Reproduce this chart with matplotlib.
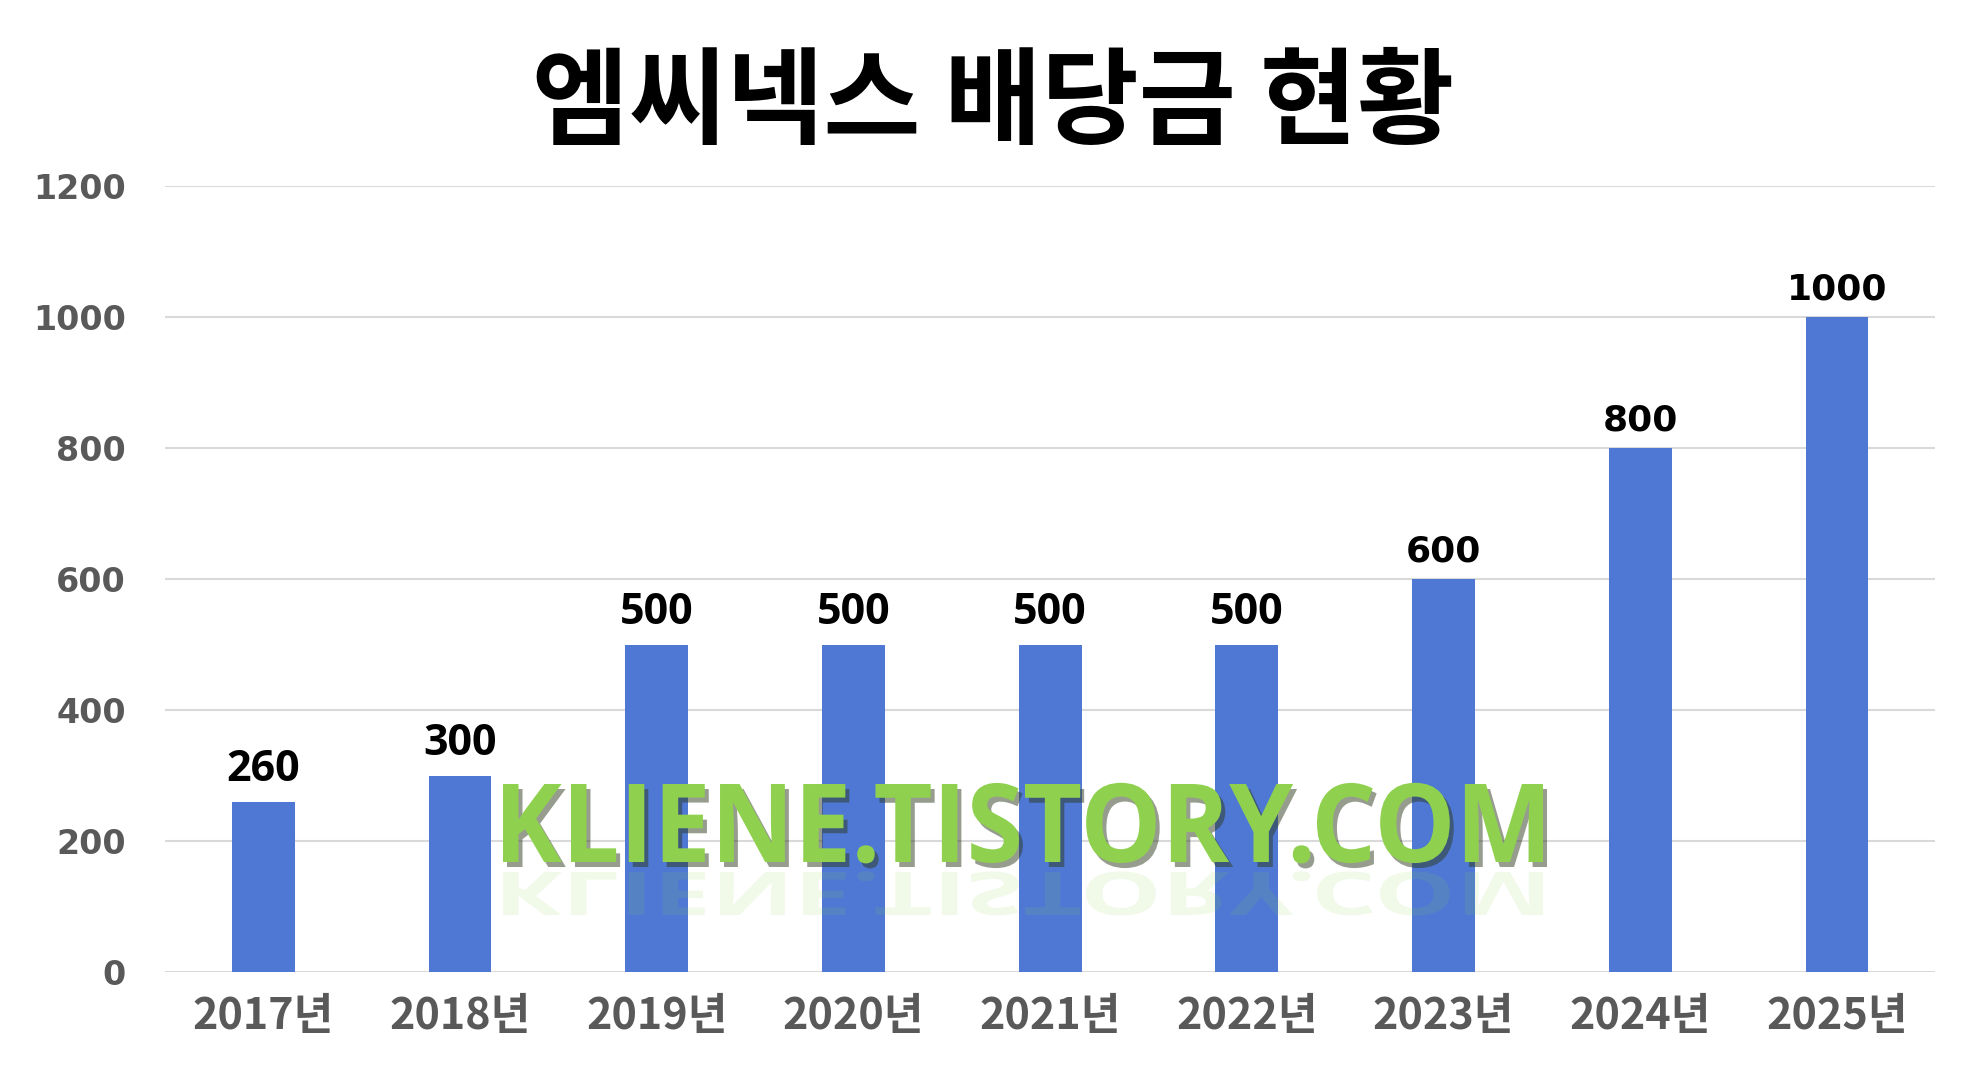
import numpy as np
import matplotlib
matplotlib.use('Agg')
import matplotlib.pyplot as plt
from matplotlib.font_manager import FontProperties
from matplotlib.textpath import TextPath
from matplotlib.patches import PathPatch
from matplotlib.transforms import Affine2D, IdentityTransform

years = ['2017년', '2018년', '2019년', '2020년', '2021년', '2022년', '2023년', '2024년', '2025년']
dividends = [260, 300, 500, 500, 500, 500, 600, 800, 1000]
y_ticks = [0, 200, 400, 600, 800, 1000, 1200]
title = '엠씨넥스 배당금 현황'
watermark = 'KLIENE.TISTORY.COM'

W, H, DPI = 1987, 1069, 100
fig = plt.figure(figsize=(W / DPI, H / DPI), dpi=DPI, facecolor='white')
ax = fig.add_axes([0.083, 0.0907, 0.891, 0.735])

x = np.arange(len(years))
ax.bar(x, dividends, width=0.32, color='#4e78d4', zorder=3)

ax.set_xlim(-0.5, len(years) - 0.5)
ax.set_ylim(0, 1200)
ax.set_yticks(y_ticks)
ax.set_yticklabels([str(v) for v in y_ticks], fontfamily='DejaVu Sans', fontweight='bold',
                   fontsize=24, color='#595959')
ax.set_xticks(x)
ax.set_xticklabels(years, fontfamily=['Noto Sans CJK KR', 'DejaVu Sans'], fontweight='bold',
                   fontsize=31, color='#595959')
ax.tick_params(axis='both', length=0)
ax.tick_params(axis='y', pad=28)
ax.tick_params(axis='x', pad=16)
for s in ax.spines.values():
    s.set_visible(False)
ax.grid(axis='y', color='#d9d9d9', linewidth=1.5, zorder=0)
ax.set_axisbelow(True)

# 값 라벨 (앞쪽 값은 좁은 글꼴, 뒤쪽은 넓은 글꼴)
for xi, v in zip(x, dividends):
    if v <= 500:
        fam, fs = 'Open Sans', 31
    else:
        fam, fs = 'DejaVu Sans', 26
    ax.annotate(str(v), (xi, v), xytext=(0, 8), textcoords='offset points',
                ha='center', va='bottom', fontsize=fs, fontweight='bold',
                fontfamily=fam, color='black', zorder=5)

fig.text(0.5, 0.902, title, ha='center', va='center', fontsize=76,
         fontfamily=['Noto Sans CJK KR', 'DejaVu Sans'], fontweight='black', color='black')

# 워터마크: 좁게 눌린 초록 글씨 + 그림자 + 흐린 반사
prop = FontProperties(family='Open Sans', weight='bold')
tp = TextPath((0, 0), watermark, size=100, prop=prop)
ext = tp.get_extents()
target_w, target_h = 1040, 78
sx = target_w / ext.width
sy = target_h / 71.4
left_px = 503
base_px = H - 862  # baseline from bottom in pixels

def wm_patch(dx, dy, ysc, color, alpha, z):
    t = Affine2D().translate(-ext.x0, 0).scale(sx, sy * ysc).translate(left_px + dx, base_px + dy)
    p = PathPatch(t.transform_path(tp), facecolor=color, edgecolor='none', alpha=alpha,
                  transform=IdentityTransform(), zorder=z)
    fig.add_artist(p)

wm_patch(0, -10, -0.55, '#8fd14f', 0.12, 6)
wm_patch(4, -5, 1.0, '#2f3a1f', 0.5, 6)
wm_patch(0, 0, 1.0, '#8fd14f', 1.0, 7)

fig.savefig('out.png', dpi=DPI, facecolor='white')
